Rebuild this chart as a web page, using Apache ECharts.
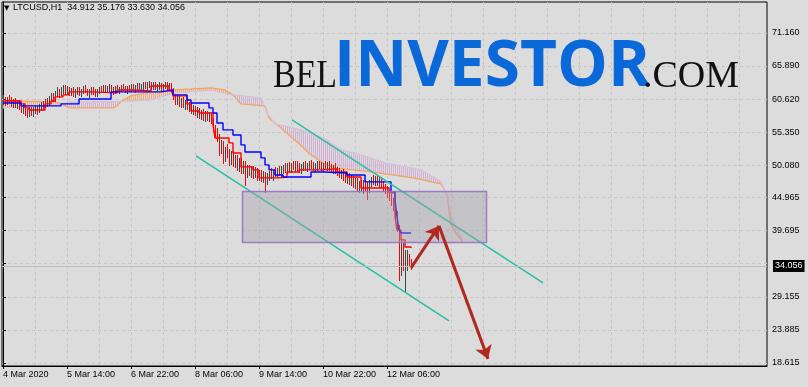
<!DOCTYPE html>
<html><head><meta charset="utf-8">
<script src="https://cdn.jsdelivr.net/npm/echarts@6/dist/echarts.min.js"></script>
<style>html,body{margin:0;padding:0;background:#DCDCDC}#c{width:808px;height:387px}</style>
</head><body><div id="c"></div><script>
// ---- data ----
const symbolTitle = 'LTCUSD,H1';
const lastQuote = ['34.912', '35.176', '33.630', '34.056'];
const xTickLabels = ['4 Mar 2020', '5 Mar 14:00', '6 Mar 22:00', '8 Mar 06:00', '9 Mar 14:00', '10 Mar 22:00', '12 Mar 06:00'];
const xTickBars = [0, 32, 64, 96, 128, 160, 192];
const yTickLabels = ['18.615', '23.885', '29.155', '34.425', '39.695', '44.965', '50.080', '55.350', '60.620', '65.890', '71.160'];
const lastPrice = 34.056;

// hourly bars: [open, high, low, close]
const ohlc = [
[60.5,61.3,59.9,60.6],[60.6,61.0,59.7,60.1],[60.1,61.0,59.8,60.7],[60.7,61.3,60.1,60.4],[60.4,60.9,59.5,59.9],
[59.9,60.7,59.4,60.4],[60.4,60.8,59.4,59.8],[59.8,60.5,59.2,60.2],[60.2,60.5,59.0,59.4],[59.4,59.9,58.5,58.9],
[58.9,59.8,58.4,59.4],[59.4,59.6,58.1,58.5],[58.5,59.1,57.7,58.3],[58.3,59.4,58.0,59.1],[59.1,59.4,58.1,58.4],
[58.4,59.3,58.0,59.0],[59.0,59.6,58.4,59.3],[59.3,59.6,58.3,58.7],[58.7,59.8,58.5,59.5],[59.5,60.1,58.9,59.8],
[59.8,60.3,59.1,59.5],[59.5,60.7,59.3,60.4],[60.4,60.8,59.6,59.9],[59.9,61.1,59.7,60.8],[60.8,61.6,60.3,61.3],
[61.3,61.6,60.3,60.7],[60.7,61.9,60.4,61.6],[61.6,62.6,61.1,62.1],[62.1,62.3,61.0,61.4],[61.4,62.6,61.2,62.2],
[62.2,62.9,61.6,62.4],[62.4,62.8,61.4,61.8],[61.8,62.7,61.5,62.3],[62.3,62.6,61.3,61.6],[61.6,62.4,61.2,62.1],
[62.1,62.5,61.1,61.4],[61.4,62.2,61.0,61.9],[61.9,62.6,61.5,62.2],[62.2,62.5,61.2,61.5],[61.5,62.3,61.1,62.0],
[62.0,62.7,61.6,62.4],[62.4,62.8,61.7,61.9],[61.9,62.3,61.2,61.5],[61.5,62.2,61.0,61.9],[61.9,62.5,61.4,62.2],
[62.2,62.6,61.5,61.7],[61.7,62.2,61.1,61.4],[61.4,62.2,61.1,62.0],[62.0,62.6,61.6,62.3],[62.3,62.7,61.7,61.9],
[61.9,62.8,61.8,62.5],[62.5,62.9,61.8,62.0],[62.0,62.7,61.7,62.4],[62.4,63.0,61.9,62.6],[62.6,62.9,61.8,62.0],
[62.0,62.5,61.4,61.8],[61.8,62.7,61.6,62.4],[62.4,62.8,61.7,61.9],[61.9,62.6,61.6,62.3],[62.3,62.9,61.9,62.6],
[62.6,63.0,62.0,62.2],[62.2,62.7,61.7,61.9],[61.9,62.7,61.6,62.5],[62.5,62.9,61.9,62.1],[62.1,63.0,61.9,62.7],
[62.7,63.1,62.0,62.2],[62.2,62.9,61.8,62.6],[62.6,63.2,62.1,62.9],[62.9,63.2,62.2,62.3],[62.3,63.1,62.0,62.8],
[62.8,63.3,62.3,63.0],[63.0,63.4,62.4,62.5],[62.5,63.3,62.2,63.0],[63.0,63.5,62.5,63.1],[63.1,63.4,62.3,62.5],
[62.5,63.3,62.2,63.0],[63.0,63.4,62.3,62.4],[62.4,63.1,62.0,62.8],[62.8,63.3,62.3,62.9],[62.9,63.2,62.1,62.3],
[62.3,63.1,62.0,62.8],[62.8,63.4,62.4,63.0],[63.0,63.3,62.2,62.4],[62.4,63.2,62.1,62.9],[62.9,63.2,61.8,62.0],
[62.0,62.4,60.6,61.0],[61.0,61.5,59.8,60.3],[60.3,61.2,59.8,60.8],[60.8,61.1,59.5,59.9],[59.9,60.8,59.3,60.4],
[60.4,60.9,59.4,59.7],[59.7,60.5,59.0,60.2],[60.2,60.6,59.1,59.4],[59.4,60.2,58.7,59.8],[59.8,60.2,58.4,58.8],
[58.8,59.7,58.3,59.3],[59.3,59.6,58.1,58.5],[58.5,59.3,57.8,58.9],[58.9,59.2,57.6,58.0],[58.0,58.9,57.4,58.5],
[58.5,59.0,57.3,57.7],[57.7,58.7,57.1,58.3],[58.3,58.8,57.3,57.6],[57.6,58.5,57.1,58.1],[58.1,58.4,56.8,57.1],
[57.1,57.6,55.6,55.9],[55.9,56.5,54.8,55.2],[55.2,56.0,54.0,54.5],[54.5,55.1,51.8,52.5],[52.5,54.1,52.1,53.6],
[53.6,54.0,50.5,51.1],[51.1,53.0,50.8,52.5],[52.5,53.4,51.4,51.9],[51.9,52.7,50.1,50.7],[50.7,52.3,50.3,51.8],
[51.8,52.4,50.0,50.5],[50.5,51.8,49.8,51.4],[51.4,51.8,49.4,49.9],[49.9,51.2,49.1,50.7],[50.7,51.2,48.8,49.3],
[49.3,50.7,48.9,50.3],[50.3,50.7,46.9,48.5],[48.5,50.1,48.2,49.7],[49.7,50.2,48.5,48.9],[48.9,50.0,48.3,49.6],
[49.6,49.9,48.1,48.6],[48.6,49.8,48.2,49.3],[49.3,49.7,47.8,48.2],[48.2,49.3,47.7,48.9],[48.9,49.4,47.6,48.0],
[48.0,49.1,47.5,48.7],[48.7,49.0,45.9,47.4],[47.4,48.9,47.1,48.5],[48.5,49.2,47.8,48.8],[48.8,49.6,48.0,48.2],
[48.2,49.4,47.8,49.1],[49.1,49.8,48.4,48.7],[48.7,49.7,48.2,49.4],[49.4,50.0,48.5,48.8],[48.8,49.9,48.3,49.5],
[49.5,50.2,48.8,49.8],[49.8,50.4,49.0,49.4],[49.4,50.5,48.9,50.1],[50.1,50.6,49.1,49.5],[49.5,50.5,49.0,50.2],
[50.2,50.8,49.5,49.8],[49.8,50.7,49.2,50.4],[50.4,50.8,49.4,49.7],[49.7,50.4,49.0,49.4],[49.4,50.3,48.9,50.0],
[50.0,50.6,49.3,50.3],[50.3,50.7,49.4,49.6],[49.6,50.5,49.2,50.1],[50.1,50.8,49.5,50.5],[50.5,50.9,49.6,49.9],
[49.9,50.6,49.3,49.6],[49.6,50.4,49.2,50.1],[50.1,50.7,49.4,50.4],[50.4,50.8,49.7,50.0],[50.0,50.6,49.3,49.7],
[49.7,50.5,49.2,50.2],[50.2,50.7,49.5,49.8],[49.8,50.6,49.3,50.3],[50.3,50.7,49.4,49.6],[49.6,50.3,49.0,49.3],
[49.3,50.2,48.9,49.9],[49.9,50.4,48.8,49.1],[49.1,49.8,48.5,48.9],[48.9,49.7,48.2,48.5],[48.5,49.4,48.0,49.0],
[49.0,49.5,47.8,48.2],[48.2,49.0,47.4,47.9],[47.9,48.8,47.3,48.5],[48.5,48.9,47.1,47.5],[47.5,48.5,46.9,48.0],
[48.0,48.4,46.7,47.1],[47.1,48.1,46.4,47.7],[47.7,48.0,46.0,46.4],[46.4,47.6,45.8,47.2],[47.2,47.8,46.1,46.6],
[46.6,47.7,45.6,47.3],[47.3,47.8,46.2,46.7],[46.7,47.5,44.7,46.1],[46.1,47.8,45.8,47.4],[47.4,48.3,46.8,47.9],
[47.9,48.5,47.1,47.4],[47.4,48.4,47.0,48.1],[48.1,48.6,46.9,47.3],[47.3,48.2,46.7,47.8],[47.8,48.3,46.6,46.9],
[46.9,47.6,46.0,46.4],[46.4,47.1,45.6,46.1],[46.1,46.8,45.0,45.4],[45.4,46.1,44.5,44.9],[44.9,45.5,43.7,44.1],
[44.1,44.9,43.0,43.4],[43.4,44.0,41.8,42.2],[42.2,42.8,39.6,40.1],[40.1,40.6,31.8,33.0],[33.0,38.2,32.6,37.6],
[37.6,37.9,33.4,34.4],[34.4,36.6,29.93,34.6],[34.6,36.6,33.4,35.6],[35.6,35.9,34.0,34.912],[34.912,35.176,33.630,34.056]
];

// Ichimoku lines, [bar index, price] read at each level change
const tenkan = [[0,60.33],[9,59.86],[11,59.22],[13,58.90],[21,59.86],[24,60.33],[26,60.97],[30,61.29],[33,61.77],[44,61.61],[57,62.08],[65,61.93],[74,62.72],[83,61.93],[85,61.13],[92,59.86],[94,58.74],[98,58.42],[105,56.51],[106,54.44],[113,53.65],[115,52.05],[119,49.83],[125,49.35],[128,48.08],[138,48.23],[142,49.03],[148,49.35],[159,49.51],[167,49.03],[172,48.23],[179,46.48],[193,45.69],[196,41.87],[197,39.80],[199,38.21],[201,37.09],[204,36.93]];
const kijun = [[0,60.01],[9,59.54],[29,59.86],[38,60.65],[54,61.77],[79,62.08],[85,61.29],[92,60.49],[94,60.01],[103,59.22],[105,58.42],[107,56.83],[110,55.72],[115,54.92],[119,53.33],[121,52.21],[129,51.26],[131,50.15],[133,49.35],[136,48.55],[140,48.23],[154,49.03],[161,48.87],[172,48.55],[181,47.44],[194,45.85],[196,44.57],[197,41.87],[198,39.80],[199,39.32],[204,39.32]];
const senkouA = [[0,60.33],[26,60.17],[30,59.78],[33,59.22],[55,59.22],[57,59.54],[59,60.25],[64,61.13],[74,61.77],[86,62.08],[104,62.40],[111,62.08],[115,61.29],[119,59.86],[131,59.54],[133,57.63],[139,56.04],[147,53.81],[154,51.74],[160,50.46],[166,49.67],[184,49.03],[205,48.08],[219,47.12],[222,45.37],[224,40.60],[227,39.00],[230,37.89]];
const senkouB = [[0,59.22],[20,59.54],[30,59.78],[32,60.17],[45,60.17],[59,60.25],[74,60.49],[86,61.61],[104,62.08],[112,61.45],[115,61.29],[129,60.81],[132,58.42],[136,56.67],[149,55.72],[162,54.12],[169,52.53],[179,51.74],[191,50.46],[209,49.35],[219,47.44],[222,45.37],[224,42.19],[227,39.80],[230,38.21]];
// cloud sections between crossings: [from bar, to bar, which span is on top]
const kumoRegions = [[0,30,'A'],[30,59,'B'],[59,115,'A'],[115,230,'B']];

// drawings
const channelUpper = [[144.5,57.31],[270,31.36]];
const channelLower = [[96.5,51.58],[223,25.32]];
const zoneBox = [119.5,46.01,241.5,37.89];
const arrowUp = [[204,33.75],[218,40.44]];
const arrowDown = [[218,40.44],[242.5,19.27]];

// ---- rendering ----
const BULL = '#2F4F4F', BEAR = '#FF0000';
const FONT = '"Liberation Sans", Arial, sans-serif';
const gridBars = [];
for (let k = 0; k <= 368; k += 16) gridBars.push(k);

function hatch(color) {
  const c = document.createElement('canvas'); c.width = 2; c.height = 2;
  const g = c.getContext('2d'); g.fillStyle = color; g.fillRect(1, 0, 1, 2);
  return { image: c, repeat: 'repeat' };
}
const hatchA = hatch('rgba(244,164,96,0.9)');
const hatchB = hatch('rgba(210,175,212,1)');

const chart = echarts.init(document.getElementById('c'), null, { renderer: 'canvas' });
const gridStyle = { color: '#C6C6C6', type: [3, 3], width: 1 };

chart.setOption({
  animation: false,
  backgroundColor: '#DCDCDC',
  grid: { left: 2, top: 2, right: 41, bottom: 21, show: true, borderColor: '#000', borderWidth: 1, backgroundColor: 'transparent' },
  xAxis: [{
    type: 'value', min: -0.5, max: 382,
    axisLine: { show: true, lineStyle: { color: '#000' } },
    axisTick: { show: true, length: 3, customValues: xTickBars, lineStyle: { color: '#000' } },
    axisLabel: { customValues: xTickBars, formatter: v => xTickLabels[xTickBars.indexOf(v)], align: 'left', color: '#000', fontSize: 9, fontFamily: FONT, margin: 4 },
    splitLine: { show: false }
  }, {
    type: 'value', min: -0.5, max: 382, position: 'top',
    axisLine: { show: false }, axisLabel: { show: false },
    axisTick: { show: false, customValues: gridBars },
    splitLine: { show: true, lineStyle: gridStyle }
  }],
  yAxis: {
    type: 'value', position: 'right', min: 18.137, max: 76.08,
    axisLine: { show: true, lineStyle: { color: '#000' } },
    axisTick: { show: true, length: 3, customValues: yTickLabels.map(Number), lineStyle: { color: '#000' } },
    axisLabel: { customValues: yTickLabels.filter(s => s !== '34.425').map(Number), formatter: v => v.toFixed(3), color: '#000', fontSize: 9, fontFamily: FONT, margin: 5 },
    splitLine: { show: true, lineStyle: gridStyle }
  },
  graphic: [
    { type: 'text', x: 4, y: 8, z: 50, style: { text: '▼', font: '7px "DejaVu Sans"', fill: '#000', verticalAlign: 'middle' } },
    { type: 'text', x: 13, y: 8, z: 50, style: { text: symbolTitle + '  ' + lastQuote.join(' '), font: '9px ' + FONT, fill: '#000', verticalAlign: 'middle' } },
    { type: 'text', x: 273, y: 77, scaleX: 0.87, z: 50, style: { text: 'BEL', font: '39px "Liberation Serif"', fill: '#111', verticalAlign: 'middle' } },
    { type: 'text', x: 334, y: 68, z: 50, style: { text: 'INVESTOR', font: 'bold 64px "Open Sans"', fill: '#0B68D9', verticalAlign: 'middle' } },
    { type: 'text', x: 643, y: 77, z: 50, style: { text: '.COM', font: '38px "Liberation Serif"', fill: '#111', verticalAlign: 'middle' } }
  ],
  series: [
    { // kumo hatch
      type: 'custom', z: 1, silent: true,
      data: kumoRegions.map(r => [r[0], r[1]]),
      encode: { x: [0, 1] },
      renderItem: (params, api) => {
        const r = kumoRegions[params.dataIndex];
        const s = r[0], e = r[1];
        const pts = [];
        senkouA.filter(p => p[0] >= s && p[0] <= e).forEach(p => pts.push(api.coord(p)));
        senkouB.filter(p => p[0] >= s && p[0] <= e).reverse().forEach(p => pts.push(api.coord(p)));
        return { type: 'polygon', shape: { points: pts }, style: { fill: r[2] === 'A' ? hatchA : hatchB, stroke: 'none', lineWidth: 0 } };
      }
    },
    { type: 'line', data: senkouA, z: 2, silent: true, symbol: 'none', lineStyle: { color: '#F4A460', width: 1.3 } },
    { type: 'line', data: senkouB, z: 2, silent: true, symbol: 'none', lineStyle: { color: '#D8BFD8', width: 1.3 } },
    { // OHLC bars (high-low line of each hour)
      type: 'custom', z: 3, silent: true,
      data: ohlc.map((b, i) => [i, b[0], b[1], b[2], b[3]]),
      encode: { x: 0, y: [1, 2, 3, 4] },
      renderItem: (params, api) => {
        const i = api.value(0), o = api.value(1), h = api.value(2), l = api.value(3), c = api.value(4);
        const pH = api.coord([i, h]), pL = api.coord([i, l]);
        const px = Math.round(pH[0]);
        const col = c >= o ? BULL : BEAR;
        const top = Math.round(pH[1]), bot = Math.round(pL[1]);
        return { type: 'rect', shape: { x: px, y: top, width: 1, height: Math.max(1, bot - top + 1) }, style: { fill: col, stroke: 'none', lineWidth: 0 } };
      },
      markLine: {
        silent: true, symbol: 'none',
        lineStyle: { color: '#BDBDBD', type: 'solid', width: 1 },
        label: { show: true, position: 'end', distance: 6, formatter: lastPrice.toFixed(3), color: '#fff', backgroundColor: '#000', padding: [2, 2, 1, 2], fontSize: 9, fontFamily: FONT },
        data: [{ yAxis: lastPrice }]
      }
    },
    { type: 'line', data: tenkan, step: 'end', z: 4, silent: true, symbol: 'none', lineStyle: { color: '#FF0000', width: 1.4 } },
    { type: 'line', data: kijun, step: 'end', z: 4, silent: true, symbol: 'none', lineStyle: { color: '#0000FF', width: 1.4 } },
    { type: 'line', data: channelUpper, z: 4, silent: true, symbol: 'none', lineStyle: { color: '#26C0A2', width: 1.5 } },
    { type: 'line', data: channelLower, z: 4, silent: true, symbol: 'none', lineStyle: { color: '#26C0A2', width: 1.5 } },
    { // rectangle zone
      type: 'custom', z: 5, silent: true,
      data: [zoneBox], encode: { x: [0, 2], y: [1, 3] },
      renderItem: (params, api) => {
        const p1 = api.coord([api.value(0), api.value(1)]), p2 = api.coord([api.value(2), api.value(3)]);
        return { type: 'rect', shape: { x: Math.round(p1[0]) + 0.5, y: Math.round(p1[1]) + 0.5, width: Math.round(p2[0] - p1[0]), height: Math.round(p2[1] - p1[1]) },
          style: { fill: 'rgba(160,160,172,0.42)', stroke: 'rgba(150,115,195,0.9)', lineWidth: 1.5 } };
      }
    },
    { // arrows
      type: 'lines', coordinateSystem: 'cartesian2d', z: 6, silent: true,
      symbol: ['none', 'arrow'], symbolSize: 13,
      lineStyle: { color: '#B0281F', width: 3, opacity: 1, curveness: 0 },
      data: [{ coords: arrowUp }, { coords: arrowDown }]
    }
  ]
});
</script></body></html>
